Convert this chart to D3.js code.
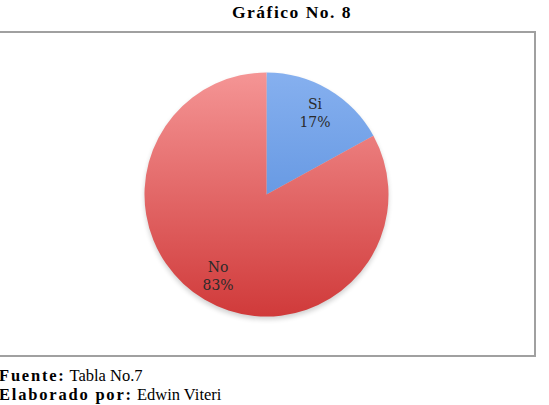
<html>
  <head>
    <script src="https://d3js.org/d3.v7.min.js"></script>
    <style>
      body { margin: 0; background: #fff; }
      .title { font-family: "Liberation Serif", serif; font-weight: bold; font-size: 17.5px; letter-spacing: 1.5px; }
      .label { font-family: "DejaVu Serif", serif; font-size: 14px; fill: #2a2a2a; }
      .foot { font-family: "Liberation Serif", serif; font-size: 16.5px; }
      .foot .b { font-weight: bold; letter-spacing: 1.8px; }
    </style>
  </head>
  <body>
    <svg id="chart" width="549" height="405"></svg>
    <script>
      const categories = ["Si", "No"];
      const values = [17, 83];
      const percentLabels = ["17%", "83%"];

      const svg = d3.select("#chart");

      // gradients for the slices
      const defs = svg.append("defs");
      const grads = [
        { id: "gSi", top: "#86b0ef", bottom: "#4a84d8" },
        { id: "gNo", top: "#f59595", bottom: "#d03a3a" }
      ];
      grads.forEach((g) => {
        const lg = defs.append("linearGradient")
          .attr("id", g.id)
          .attr("gradientUnits", "userSpaceOnUse")
          .attr("x1", 0).attr("y1", -122).attr("x2", 0).attr("y2", 122);
        lg.append("stop").attr("offset", "0%").attr("stop-color", g.top);
        lg.append("stop").attr("offset", "100%").attr("stop-color", g.bottom);
      });
      const shadow = defs.append("filter").attr("id", "shadow")
        .attr("x", "-20%").attr("y", "-20%").attr("width", "140%").attr("height", "140%");
      shadow.append("feGaussianBlur").attr("stdDeviation", 2.5);

      // title
      svg.append("text")
        .attr("class", "title")
        .attr("x", 292)
        .attr("y", 18)
        .attr("text-anchor", "middle")
        .text("Gráfico No. 8");

      // chart frame
      svg.append("rect")
        .attr("x", -5).attr("y", 32)
        .attr("width", 540).attr("height", 324)
        .attr("fill", "none")
        .attr("stroke", "#a0a0a0")
        .attr("stroke-width", 2);

      const cx = 266.5, cy = 194.5, r = 122;
      const g = svg.append("g").attr("transform", "translate(" + cx + "," + cy + ")");

      const pie = d3.pie().sort(null).value((d) => d.value);
      const data = pie(categories.map((c, i) => ({ cat: c, value: values[i], pct: percentLabels[i] })));
      const arc = d3.arc().innerRadius(0).outerRadius(r);

      g.append("circle")
        .attr("cx", 0).attr("cy", 3)
        .attr("r", r)
        .attr("fill", "#000")
        .attr("opacity", 0.18)
        .attr("filter", "url(#shadow)");

      g.selectAll("path.slice")
        .data(data)
        .join("path")
        .attr("class", "slice")
        .attr("fill", (d, i) => "url(#" + grads[i].id + ")")
        .attr("d", arc);

      const labelArc = d3.arc().innerRadius(r * 0.78).outerRadius(r * 0.78);
      const lab = g.selectAll("g.lab")
        .data(data)
        .join("g")
        .attr("class", "lab")
        .attr("transform", (d) => {
          const c = labelArc.centroid(d);
          return "translate(" + c[0] + "," + c[1] + ")";
        });
      lab.append("text")
        .attr("class", "label")
        .attr("text-anchor", "middle")
        .attr("y", -4)
        .text((d) => d.data.cat);
      lab.append("text")
        .attr("class", "label")
        .attr("text-anchor", "middle")
        .attr("y", 14)
        .text((d) => d.data.pct);

      // footer
      const f1 = svg.append("text").attr("class", "foot").attr("x", -1).attr("y", 381);
      f1.append("tspan").attr("class", "b").text("Fuente:");
      f1.append("tspan").text(" Tabla No.7");
      const f2 = svg.append("text").attr("class", "foot").attr("x", -1).attr("y", 400);
      f2.append("tspan").attr("class", "b").text("Elaborado por:");
      f2.append("tspan").text(" Edwin Viteri");
    </script>
  </body>
</html>
